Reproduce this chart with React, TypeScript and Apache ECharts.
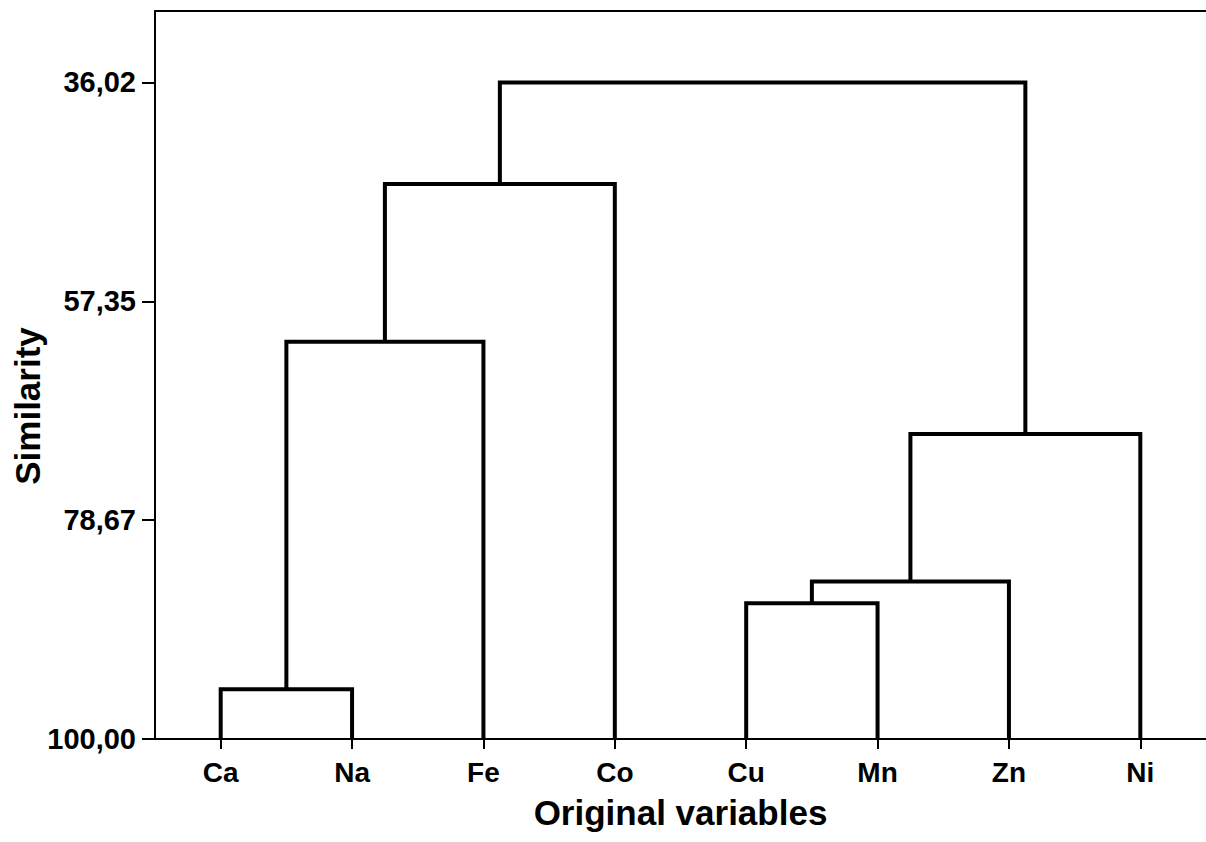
import React, { useEffect, useRef } from "react";
import * as echarts from "echarts";

// Leaf variables, in dendrogram order
const variables = ["Ca", "Na", "Fe", "Co", "Cu", "Mn", "Zn", "Ni"];

// Similarity axis tick values
const similarityTicks = [36.02, 57.35, 78.67, 100.0];

// Linkage steps: cluster ids below 8 are leaves, id 8 + k is the cluster formed at step k
const mergeA = [0, 4, 9, 10, 8, 12, 13];
const mergeB = [1, 5, 6, 7, 2, 3, 11];
const mergeSimilarity = [95.15, 86.77, 84.66, 70.28, 61.28, 45.91, 36.02];

const AXIS_MIN = 29.06;
const FONT = "'Liberation Sans', Arial, Helvetica, sans-serif";

function buildLinks() {
  const nodeX: number[] = variables.map((_, i) => i);
  const nodeY: number[] = variables.map(() => 100);
  const links: number[][][] = [];
  mergeA.forEach((a, k) => {
    const b = mergeB[k];
    const h = mergeSimilarity[k];
    links.push([
      [nodeX[a], nodeY[a]],
      [nodeX[a], h],
      [nodeX[b], h],
      [nodeX[b], nodeY[b]],
    ]);
    nodeX.push((nodeX[a] + nodeX[b]) / 2);
    nodeY.push(h);
  });
  return links;
}

export default function App() {
  const ref = useRef<HTMLDivElement>(null);

  useEffect(() => {
    if (!ref.current) return;
    const chart = echarts.init(ref.current, null, { renderer: "svg" });
    const links = buildLinks();

    chart.setOption({
      animation: false,
      backgroundColor: "#ffffff",
      grid: { left: 155, top: 11, bottom: 103, right: -6, containLabel: false },
      xAxis: [
        {
          type: "category",
          data: variables,
          boundaryGap: true,
          position: "bottom",
          axisLine: { show: true, lineStyle: { color: "#000", width: 2 } },
          axisTick: { show: true, alignWithLabel: true, length: 10, lineStyle: { color: "#000", width: 2 } },
          axisLabel: { color: "#000", fontSize: 28, fontWeight: "bold", fontFamily: FONT, margin: 19 },
          splitLine: { show: false },
          name: "Original variables",
          nameLocation: "middle",
          nameGap: 56,
          nameTextStyle: { color: "#000", fontSize: 35, fontWeight: "bold", fontFamily: FONT },
        },
        {
          type: "value",
          min: -0.5,
          max: variables.length - 0.5,
          position: "top",
          axisLine: { show: true, onZero: false, lineStyle: { color: "#000", width: 2 } },
          axisTick: { show: false },
          axisLabel: { show: false },
          splitLine: { show: false },
        },
      ],
      yAxis: {
        type: "value",
        inverse: true,
        min: AXIS_MIN,
        max: 100,
        axisLine: { show: true, onZero: false, lineStyle: { color: "#000", width: 2 } },
        axisTick: { show: true, customValues: similarityTicks, length: 13, lineStyle: { color: "#000", width: 2 } },
        axisLabel: {
          customValues: similarityTicks,
          color: "#000",
          fontSize: 29,
          fontWeight: "bold",
          fontFamily: FONT,
          margin: 19,
          formatter: (v: number) => v.toFixed(2).replace(".", ","),
        },
        splitLine: { show: false },
      },
      graphic: [
        {
          type: "text",
          x: 27,
          y: 406,
          rotation: Math.PI / 2,
          style: {
            text: "Similarity",
            fill: "#000",
            font: `bold 35px ${FONT}`,
            textAlign: "center",
            textVerticalAlign: "middle",
          },
        },
      ],
      series: links.map((pts) => ({
        type: "line",
        xAxisIndex: 1,
        yAxisIndex: 0,
        data: pts,
        symbol: "none",
        silent: true,
        lineStyle: { color: "#000", width: 4, join: "miter", cap: "butt" },
      })),
    });

    return () => chart.dispose();
  }, []);

  return (
    <div
      ref={ref}
      style={{ position: "fixed", left: 0, top: 0, width: 1206, height: 842, background: "#fff" }}
    />
  );
}
